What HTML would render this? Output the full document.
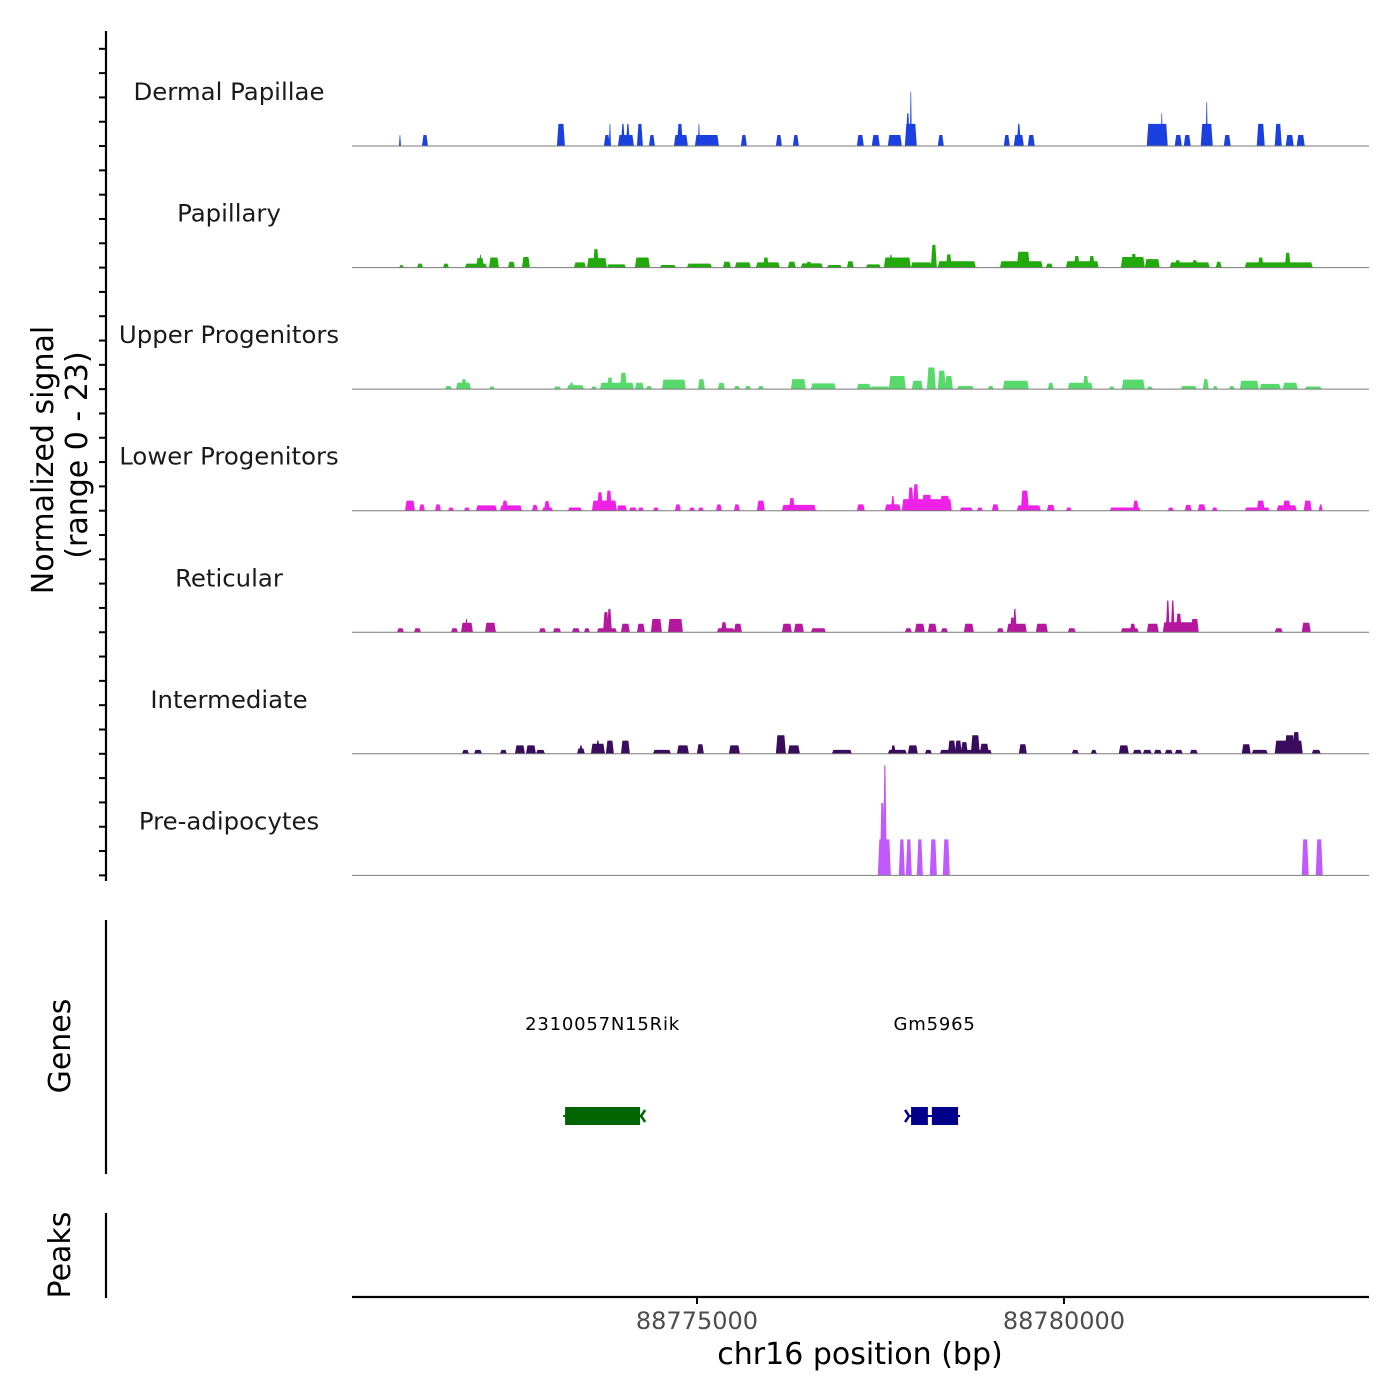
<!DOCTYPE html>
<html><head><meta charset="utf-8">
<style>
html,body{margin:0;padding:0;background:#fff;}
svg{display:block;font-family:"DejaVu Sans","Liberation Sans",sans-serif;}
</style></head>
<body>
<svg id="chart" width="1400" height="1400" viewBox="0 0 1400 1400" xmlns="http://www.w3.org/2000/svg">
  <g id="yaxis">
    <line x1="106" y1="31" x2="106" y2="881" stroke="#000" stroke-width="2.2"/>
  </g>
  <text transform="translate(53,460) rotate(-90)" text-anchor="middle" font-size="30" fill="#000">Normalized signal</text>
  <text transform="translate(87,455) rotate(-90)" text-anchor="middle" font-size="30" fill="#000">(range 0 - 23)</text>
  <g id="tracks"></g>
  <g id="labels"></g>

  <line x1="106" y1="920" x2="106" y2="1174" stroke="#000" stroke-width="2.2"/>
  <text transform="translate(70,1046) rotate(-90)" text-anchor="middle" font-size="30" fill="#000">Genes</text>
  <g id="genes"></g>

  <line x1="106" y1="1213" x2="106" y2="1298" stroke="#000" stroke-width="2.2"/>
  <text transform="translate(70,1255) rotate(-90)" text-anchor="middle" font-size="30" fill="#000">Peaks</text>

  <line x1="352" y1="1297" x2="1369" y2="1297" stroke="#000" stroke-width="2.2"/>
  <g id="xticks"></g>
  <text x="860" y="1364" text-anchor="middle" font-size="30" fill="#000">chr16 position (bp)</text>
</svg>
<script>
// ---------- data ----------
const regionStart = 88770300;
const regionEnd = 88784142;
const signalMax = 23;
const xTickValues = [88775000, 88780000];
const xTickLabels = ["88775000", "88780000"];
const trackNames = ["Dermal Papillae","Papillary","Upper Progenitors","Lower Progenitors","Reticular","Intermediate","Pre-adipocytes"];
const trackColors = ["#1a40e0","#22a90c","#57d96b","#ee22e6","#b5179e","#3a0c5e","#c05aff"];

// peaks: start / end (bp offset from regionStart), height (normalized signal)
const dpStart = [640,953,2792,3432,3500,3623,3664,3732,3882,4045,4386,4427,4672,4713,5298,5775,6006,6878,7082,7300,7532,7545,7600,7981,8880,9016,9057,9207,10828,11019,11209,11332,11563,11631,11877,12326,12571,12721,12871];
const dpEnd   = [667,1035,2901,3514,3528,3841,3718,3786,3963,4127,4576,4508,4999,4740,5380,5857,6088,6973,7191,7491,7695,7600,7627,8063,8962,9153,9112,9302,11114,11046,11305,11427,11727,11659,11972,12435,12667,12830,12980];
const dpHeight= [2.1,2.1,4.2,2.1,4.2,2.1,4.2,4.2,4.2,2.1,2.1,4.2,2.1,4.2,2.1,2.1,2.1,2.1,2.1,2.1,4.2,6.2,10.3,2.1,2.1,2.1,4.2,2.1,4.2,6.2,2.1,2.1,4.2,8.3,2.1,4.2,4.2,2.1,2.1];

const papStart = [640,885,1239,1539,1689,1730,1866,2125,2315,3024,3201,3282,3473,3854,4195,4563,5053,5216,5502,5598,5938,6115,6183,6470,6742,7001,7246,7314,7614,7886,7981,8090,8826,9057,9452,9725,9834,10038,10474,10610,10801,11141,11209,11441,11768,12163,12340,12707];
const papEnd   = [708,967,1321,1839,1798,1771,2002,2220,2424,3187,3473,3364,3732,4059,4413,4903,5162,5434,5829,5680,6047,6415,6265,6674,6837,7205,7614,7368,7900,7968,8499,8172,9411,9234,9548,10174,9915,10120,10801,10692,11005,11686,11291,11523,11849,13089,12421,12789];
const papHeight= [0.5,0.75,0.75,0.75,1.8,2.4,1.9,1.1,2,1,1.8,3.5,0.6,1.9,0.5,0.75,1.1,1,1,1.9,1.1,0.8,1.1,0.5,1.2,0.6,1.9,2.4,1,4.3,1.2,2.5,1.2,3,0.75,1.2,2.2,2.2,2,2.6,1.6,1,1.4,1.4,1.1,1,1.9,2.8];

const upStart = [1267,1416,1485,1866,2751,2928,2956,3255,3378,3473,3650,3854,4004,4222,4713,4985,5203,5353,5530,5979,6252,6878,7055,7314,7627,7832,7981,8077,8240,8662,8867,9480,9752,9956,10310,10487,10828,11291,11591,11727,11945,12095,12367,12680,12980];
const upEnd   = [1362,1621,1566,1948,2847,3160,3024,3337,3841,3555,3746,3977,4086,4549,4808,5080,5285,5434,5611,6183,6592,7069,7328,7545,7777,7954,8090,8186,8472,8744,9221,9561,10092,10038,10392,10801,10910,11509,11672,11795,12026,12353,12653,12885,13211];
const upHeight= [0.6,1.2,1.9,0.5,0.5,0.75,1.2,0.5,1.2,2.2,3.1,1.2,0.6,1.8,1.9,1.2,0.6,0.6,0.6,1.9,1.1,1,0.5,2.5,1.6,4.1,3.5,2.5,0.6,0.6,1.6,1.2,1.2,2.5,0.5,1.8,0.5,0.6,1.9,0.6,0.6,1.6,1,1.2,0.5];

const lpStart = [722,913,1130,1308,1525,1689,2016,2043,2452,2588,2615,2942,3269,3337,3459,3609,3773,3895,4100,4399,4590,4713,4958,5203,5516,5857,5952,6878,7259,7341,7491,7573,7641,7763,8009,8281,8513,8717,9057,9112,9466,9725,10324,10637,11114,11345,11523,11713,12163,12326,12598,12680,12966,13170];
const lpEnd   = [858,994,1212,1389,1607,1975,2315,2125,2533,2738,2697,3133,3609,3419,3541,3746,3882,3977,4181,4481,4672,4794,5039,5285,5625,6320,6034,6987,7477,7396,8172,7654,7723,7900,8145,8458,8594,8812,9384,9221,9575,9806,10746,10719,11196,11441,11631,11795,12503,12435,12871,12789,13075,13225];
const lpHeight= [1.9,1.2,1.2,0.6,0.6,1,1,1.9,1.1,0.6,1.8,0.6,1.9,3.5,3.8,1,0.6,0.6,0.6,1.2,0.6,0.6,1.2,1.2,1.9,1.1,2.4,1.2,1.2,2.8,2.2,4.4,5,3,2.8,0.6,0.6,1.2,1,3.8,1.1,0.6,0.6,1.9,0.6,1.1,1.2,0.6,0.6,1.9,1,1.9,1.9,1.2];

const retStart = [613,844,1348,1485,1539,1811,2547,2738,2996,3160,3337,3419,3473,3664,3882,4072,4304,4971,5026,5203,5857,6020,6252,7532,7668,7845,8022,8335,8785,8921,8962,9003,9316,9752,10474,10596,10828,11046,11087,11155,11223,11427,12571,12939];
const retEnd   = [708,940,1444,1648,1580,1961,2642,2847,3105,3242,3609,3500,3541,3786,3991,4222,4508,5216,5108,5312,5993,6156,6456,7627,7804,7968,8118,8472,8880,9194,9030,9057,9480,9861,10719,10678,10991,11536,11141,11209,11305,11536,12680,13062];
const retHeight= [0.75,0.75,0.75,1.8,2.5,1.8,0.75,0.75,0.75,0.75,0.75,3.8,4.4,1.6,1.6,2.5,2.5,0.75,1.9,1.6,1.6,1.6,0.75,0.75,1.6,1.6,0.75,1.6,0.75,1.6,2.8,4.4,1.6,0.75,0.75,1.6,1.6,1.9,6,6,3.5,2.5,0.75,1.8];

const intStart = [1498,1662,2016,2220,2370,2506,3065,3092,3255,3323,3459,3664,4100,4427,4699,5135,5775,5938,6538,7300,7341,7573,7804,8009,8118,8213,8295,8431,8553,9085,9806,10065,10447,10637,10774,10924,11073,11209,11414,12122,12258,12571,12707,12816,13075];
const intEnd   = [1594,1771,2111,2356,2506,2629,3173,3146,3446,3378,3568,3786,4345,4590,4794,5285,5911,6102,6810,7559,7409,7709,7900,8717,8226,8308,8390,8553,8676,9194,9902,10147,10583,10760,10896,11032,11182,11318,11523,12244,12476,12953,12844,12912,13198];
const intHeight= [0.75,0.75,0.75,1.6,1.6,0.75,1,1.6,1.9,2.5,2.5,2.5,0.75,1.6,1.8,1.6,3.5,1.6,0.75,0.75,1.6,1.6,0.75,0.75,2.5,2.5,2.2,3.5,1.9,1.8,0.75,0.75,1.6,0.75,0.75,0.75,0.75,0.75,0.75,1.8,0.75,2.5,3.5,4.1,0.75];

const preStart = [7164,7191,7232,7450,7545,7695,7872,8049,12939,13130];
const preEnd   = [7341,7259,7287,7532,7627,7777,7968,8145,13034,13225];
const preHeight= [6.8,13.7,20.8,6.8,6.8,6.8,6.8,6.8,6.8,6.8];

const geneNames = ["2310057N15Rik","Gm5965"];
const geneStart = [88773203, 88777917];
const geneEnd   = [88774225, 88778557];

// ---------- scales ----------
const plotX0 = 352, plotX1 = 1368;
const trackTop0 = 24.5, trackH = 121.55;
function xScale(bp){ return plotX0 + (bp - regionStart) / (regionEnd - regionStart) * (plotX1 - plotX0); }
function xOff(off){ return xScale(regionStart + off); }
function baseY(i){ return trackTop0 + trackH*(i+1); }
function hScale(v){ return v / signalMax * trackH; }

const NS = "http://www.w3.org/2000/svg";
function mk(tag, attrs, parent){
  const e = document.createElementNS(NS, tag);
  for (const k in attrs) e.setAttribute(k, attrs[k]);
  parent.appendChild(e); return e;
}
const yaxis = document.getElementById('yaxis');
const tracksG = document.getElementById('tracks');
const labelsG = document.getElementById('labels');

for (let y = baseY(6); y >= 45; y -= trackH/5){
  const t = mk('line', {x1:99, x2:106, y1:y, y2:y, stroke:'#000', 'stroke-width':2}, yaxis);
  
  
}

const trackStarts = [dpStart, papStart, upStart, lpStart, retStart, intStart, preStart];
const trackEnds = [dpEnd, papEnd, upEnd, lpEnd, retEnd, intEnd, preEnd];
const trackHeights = [dpHeight, papHeight, upHeight, lpHeight, retHeight, intHeight, preHeight];

for (let i = 0; i < trackNames.length; i++){
  const g = mk('g', {}, tracksG);
  
  
  const by = baseY(i);
  const s = trackStarts[i], e = trackEnds[i], h = trackHeights[i];
  for (let k = 0; k < s.length; k++){
    const x0 = xOff(s[k]), x1 = xOff(e[k]);
    const top = by - hScale(h[k]);
    const w = x1 - x0;
    const sl = Math.min(1.5, w*0.35);
    const pts = `${x0},${by} ${x0+sl},${top} ${x1-sl},${top} ${x1},${by}`;
    const p = mk('polygon', {points: pts, fill: trackColors[i]}, g);
    
    
  }
  const bl = mk('line', {x1:plotX0, x2:plotX1+1, y1:by, y2:by, stroke:'#7a7a7a', 'stroke-width':1}, g);
  
  
  const lab = mk('text', {x:229, y:by-46, 'text-anchor':'middle', 'font-size':24.4, fill:'#1a1a1a'}, labelsG);
  lab.textContent = trackNames[i];
  
  
}

// genes
const genesG = document.getElementById('genes');
const geneColors = ["#006400", "#00008b"];
for (let k = 0; k < geneNames.length; k++){
  const g = mk('g', {}, genesG);
  
  
  const x0 = xScale(geneStart[k]), x1 = xScale(geneEnd[k]);
  const c = geneColors[k];
  mk('line', {x1:x0-2, x2:x1+2, y1:1116, y2:1116, stroke:c, 'stroke-width':2}, g);
  if (k === 0){
    mk('rect', {x:x0, y:1107, width:x1-x0, height:18, fill:c}, g);
    mk('polyline', {points:`${x1+5},1110 ${x1+1},1116 ${x1+5},1122`, fill:'none', stroke:c, 'stroke-width':2.5}, g);
  } else {
    const mid = x0 + (x1-x0)*0.4;
    mk('rect', {x:x0, y:1107, width:mid-x0-2, height:18, fill:c}, g);
    mk('rect', {x:mid+2, y:1107, width:x1-mid-2, height:18, fill:c}, g);
    mk('polyline', {points:`${x0-6},1110 ${x0-2},1116 ${x0-6},1122`, fill:'none', stroke:c, 'stroke-width':2.5}, g);
  }
  const t = mk('text', {x:(x0+x1)/2, y:1030, 'text-anchor':'middle', 'font-size':18, 'letter-spacing':0.8, fill:'#000'}, genesG);
  t.textContent = geneNames[k];
  
  
}

// x ticks
const xt = document.getElementById('xticks');
for (let k = 0; k < xTickValues.length; k++){
  const x = xScale(xTickValues[k]);
  const tk = mk('line', {x1:x, x2:x, y1:1297, y2:1304, stroke:'#000', 'stroke-width':2}, xt);
  
  
  const tl = mk('text', {x:x, y:1329, 'text-anchor':'middle', 'font-size':24, fill:'#4d4d4d'}, xt);
  tl.textContent = xTickLabels[k];
  
  
}
</script>
</body></html>
